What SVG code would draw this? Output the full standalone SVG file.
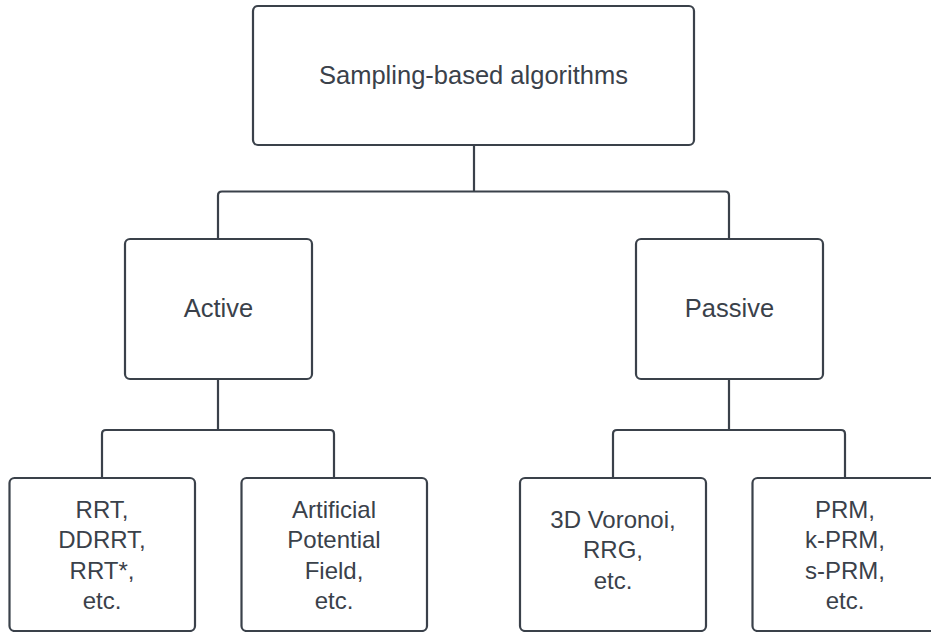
<svg xmlns="http://www.w3.org/2000/svg" width="931" height="632" viewBox="0 0 931 632">
<style>
.box{fill:#ffffff;stroke:#3a414a;stroke-width:2.2}
.con{fill:none;stroke:#3a414a;stroke-width:2.2}
.t{font-family:"Liberation Sans",Arial,sans-serif;fill:#3a414a;text-anchor:middle}
.big{font-size:25.5px}
.sm{font-size:24px}
</style>
<rect width="931" height="632" fill="#ffffff"/>
<g id="connectors">
<path class="con" d="M474,145 V191.5 M222,191.5 H725 M222,191.5 Q218,191.5 218,195.5 V239 M725,191.5 Q729,191.5 729,195.5 V239"/>
<path class="con" d="M218,379 V430 M106,430 H330 M106,430 Q102,430 102,434 V478 M330,430 Q334,430 334,434 V478"/>
<path class="con" d="M729,379 V430 M617,430 H841 M617,430 Q613,430 613,434 V478 M841,430 Q845,430 845,434 V478"/>
</g>
<g id="root">
<rect class="box" x="253" y="6" width="441" height="139" rx="5"/>
<text class="t big" x="473.5" y="83.5">Sampling-based algorithms</text>
</g>
<g id="active">
<rect class="box" x="125" y="239" width="187" height="140" rx="5"/>
<text class="t big" x="218.5" y="317">Active</text>
</g>
<g id="passive">
<rect class="box" x="636" y="239" width="187" height="140" rx="5"/>
<text class="t big" x="729.5" y="317">Passive</text>
</g>
<g id="rrt">
<rect class="box" x="9.5" y="478" width="185.5" height="153" rx="5"/>
<text class="t sm" x="102" y="517.5">RRT,</text>
<text class="t sm" x="102" y="548">DDRRT,</text>
<text class="t sm" x="102" y="578.5">RRT*,</text>
<text class="t sm" x="102" y="609">etc.</text>
</g>
<g id="apf">
<rect class="box" x="241.5" y="478" width="185.5" height="153" rx="5"/>
<text class="t sm" x="334" y="517.5">Artificial</text>
<text class="t sm" x="334" y="548">Potential</text>
<text class="t sm" x="334" y="578.5">Field,</text>
<text class="t sm" x="334" y="609">etc.</text>
</g>
<g id="voronoi">
<rect class="box" x="520" y="478" width="186" height="153" rx="5"/>
<text class="t sm" x="613" y="527.5">3D Voronoi,</text>
<text class="t sm" x="613" y="558">RRG,</text>
<text class="t sm" x="613" y="588.5">etc.</text>
</g>
<g id="prm">
<rect class="box" x="752.5" y="478" width="186" height="153" rx="5"/>
<text class="t sm" x="845" y="517.5">PRM,</text>
<text class="t sm" x="845" y="548">k-PRM,</text>
<text class="t sm" x="845" y="578.5">s-PRM,</text>
<text class="t sm" x="845" y="609">etc.</text>
</g>
</svg>
